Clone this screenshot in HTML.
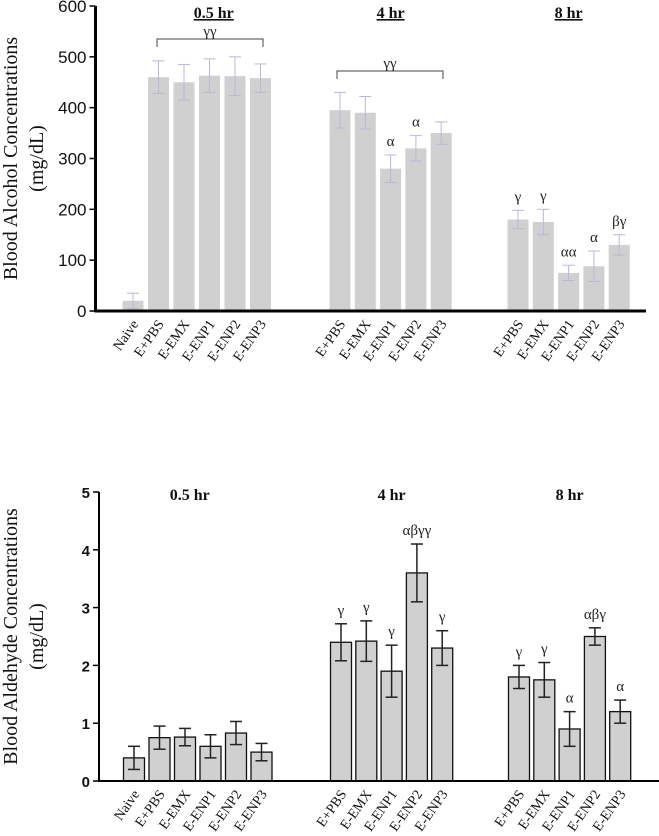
<!DOCTYPE html>
<html><head><meta charset="utf-8"><style>
body{margin:0;background:#fff;width:659px;height:836px;overflow:hidden}
svg{display:block}
.s{font-family:"Liberation Serif",serif}
.a{font-family:"Liberation Sans",sans-serif}
</style></head><body>
<svg id="c" width="659" height="836" xmlns="http://www.w3.org/2000/svg"></svg>
<script>
const categories=["Naive","E+PBS","E-EMX","E-ENP1","E-ENP2","E-ENP3","E+PBS","E-EMX","E-ENP1","E-ENP2","E-ENP3","E+PBS","E-EMX","E-ENP1","E-ENP2","E-ENP3"];
const alcoholValues=[20,460,450,463,462,458,395,390,280,320,350,180,175,75,88,130];
const alcoholErrors=[15,32,35,33,38,28,35,32,27,25,22,18,25,15,30,20];
const alcoholMarks=["","","","","","","","","α","α","","γ","γ","αα","α","βγ"];
const alcoholTicks=[0,100,200,300,400,500,600];
const aldehydeValues=[0.4,0.75,0.76,0.6,0.83,0.5,2.4,2.42,1.9,3.6,2.3,1.8,1.75,0.9,2.5,1.2];
const aldehydeErrors=[0.2,0.2,0.15,0.2,0.2,0.15,0.32,0.35,0.45,0.5,0.3,0.2,0.3,0.3,0.15,0.2];
const aldehydeMarks=["","","","","","","γ","γ","γ","αβγγ","γ","γ","γ","α","αβγ","α"];
const aldehydeTicks=[0,1,2,3,4,5];
const timeLabels=["0.5 hr","4 hr","8 hr"];

const svg=document.getElementById('c');
const NS="http://www.w3.org/2000/svg";
function mk(tag,attrs,parent,text){const e=document.createElementNS(NS,tag);for(const k in attrs)e.setAttribute(k,attrs[k]);if(text!==undefined)e.textContent=text;(parent||svg).appendChild(e);return e;}
function slot(i){
  if(i<6) return 133+i*25.5;
  if(i<11) return 340+(i-6)*25.3;
  return 518+(i-11)*25.3;
}

function chart(o){
  const g=mk('g',{});
  
  
  const y=v=>o.y0-(v/o.max)*(o.y0-o.yTop);
  const dx=o.dx;
  o.values.forEach((v,i)=>{
    const cx=slot(i)+dx;
    const b=mk('rect',{x:cx-10.5,y:y(v),width:21,height:o.y0-y(v),fill:'#d0d0d0',stroke:o.border?'#111':'none','stroke-width':o.border?1.3:0},g);
    
    
    const e=o.errors[i];
    const ec=o.border?'#222':'#b8b8d8';
    const eg=mk('g',{stroke:ec,'stroke-width':o.border?1.5:1},g);
    
    
    mk('line',{x1:cx,x2:cx,y1:y(v+e),y2:y(Math.max(0,v-e))},eg);
    mk('line',{x1:cx-6,x2:cx+6,y1:y(v+e),y2:y(v+e)},eg);
    mk('line',{x1:cx-6,x2:cx+6,y1:y(Math.max(0,v-e)),y2:y(Math.max(0,v-e))},eg);
    if(o.marks[i]){
      const t=mk('text',{x:cx,y:y(v+e)-9,'text-anchor':'middle','font-size':15,class:'s',fill:'#222'},g,o.marks[i]);
      
      
    }
    const lx=cx+6, ly=o.y0+13;
    const l=mk('text',{x:lx,y:ly,'text-anchor':'end','font-size':14,class:'s',fill:'#111',transform:`rotate(-55 ${lx} ${ly})`},g,categories[i]);
    
    
  });
  const ax=mk('line',{x1:o.ax,x2:o.ax,y1:o.yTop,y2:o.y0+1,stroke:'#000','stroke-width':o.axw},g);
  
  
  const xa=mk('line',{x1:o.ax-1,x2:o.xEnd,y1:o.y0,y2:o.y0,stroke:'#000','stroke-width':o.axw},g);
  
  
  o.ticks.forEach(t=>{
    mk('line',{x1:o.ax-6,x2:o.ax,y1:y(t),y2:y(t),stroke:'#000','stroke-width':1.5},g);
    const tl=mk('text',{x:o.ax-9,y:y(t)+6,'text-anchor':'end','font-size':o.tickSize,class:'a','font-weight':o.boldTicks?'bold':'normal',fill:'#111'},g,String(t));
    
    
  });
  const yt=mk('text',{transform:`translate(${o.titleX},${(o.y0+o.yTop)/2}) rotate(-90)`,'text-anchor':'middle','font-size':20,class:'s',fill:'#111'},g);
  
  
  mk('tspan',{x:0,dy:0},yt,o.title);
  mk('tspan',{x:0,dy:26},yt,'(mg/dL)');
  const tx=[(slot(0)+slot(5))/2+o.tdx,slot(8),slot(13)];
  timeLabels.forEach((s,k)=>{
    const t=mk('text',{x:tx[k]+dx,y:o.timeY,'text-anchor':'middle','font-size':16,'font-weight':'bold',class:'s',fill:'#111','text-decoration':o.underline?'underline':'none'},g,s);
    
    
  });
  return y;
}

const yA=chart({name:'blood-alcohol-chart',values:alcoholValues,errors:alcoholErrors,marks:alcoholMarks,ticks:alcoholTicks,max:600,y0:311,yTop:6,ax:95.5,axw:3,xEnd:646,dx:0,border:false,boldTicks:false,tickSize:17,title:'Blood Alcohol Concentrations',titleX:17,timeY:18,underline:true,tdx:17});
function bracket(x1,x2,yb,label,nm){
  const g=mk('g',{});
  
  
  mk('path',{d:`M${x1} ${yb+8} V${yb} H${x2} V${yb+8}`,fill:'none',stroke:'#444','stroke-width':1},g);
  mk('text',{x:(x1+x2)/2,y:yb-3,'text-anchor':'middle','font-size':15,class:'s',fill:'#222'},g,label);
}
bracket(157,263,39,'γγ','bracket-05hr');
bracket(337,443,71,'γγ','bracket-4hr');

const yB=chart({name:'blood-aldehyde-chart',values:aldehydeValues,errors:aldehydeErrors,marks:aldehydeMarks,ticks:aldehydeTicks,max:5,y0:781,yTop:492,ax:99,axw:2,xEnd:659,dx:1,border:true,boldTicks:true,tickSize:15,title:'Blood Aldehyde Concentrations',titleX:17,timeY:500,underline:false,tdx:-8});
</script>
</body></html>
